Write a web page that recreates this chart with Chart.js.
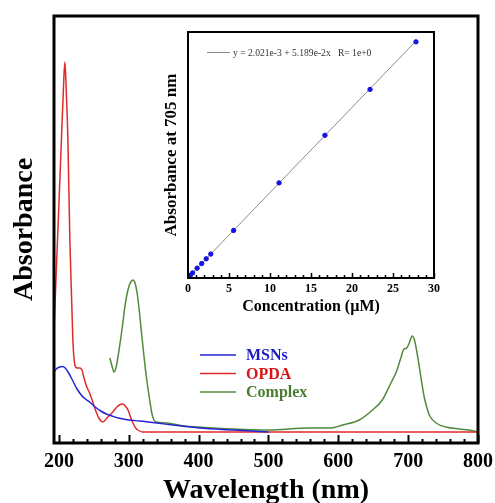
<!DOCTYPE html>
<html><head><meta charset="utf-8">
<script src="https://cdn.jsdelivr.net/npm/chart.js@4.4.0/dist/chart.umd.min.js"></script>
<style>
html,body{margin:0;padding:0;background:#fff;}
#wrap{position:relative;width:495px;height:503px;overflow:hidden;}
#main{position:absolute;left:0;top:0;}
#inset{position:absolute;left:150px;top:20px;}
</style></head><body>
<div id="wrap"><canvas id="main" width="495" height="503"></canvas><canvas id="inset" width="300" height="300"></canvas></div>
<script>
// ---------- main spectra ----------
const seriesNames = ["MSNs", "OPDA", "Complex"];
const wlMSNs  = [193,197,201,205,209,214,220,226,232,238,244,252,260,268,276,285,300,316,340,363,401,450,500];
const absMSNs = [0.71,0.745,0.76,0.765,0.75,0.70,0.62,0.54,0.48,0.44,0.41,0.36,0.32,0.29,0.27,0.25,0.23,0.22,0.20,0.18,0.15,0.13,0.11];
const wlOPDA  = [193,196,200,204,207,208.6,210.5,212.9,215.7,218.6,220,222.9,226,230,233,236,240,244,249,254,258,263,270,276,283,288,291,295,299,303,306,310,313,320,400,500,600,700,800];
const absOPDA = [1.13,1.67,2.38,3.10,3.63,3.81,3.53,3.03,2.03,1.36,1.03,0.78,0.75,0.75,0.73,0.65,0.56,0.50,0.40,0.30,0.24,0.21,0.26,0.30,0.36,0.385,0.39,0.37,0.33,0.25,0.20,0.15,0.13,0.11,0.11,0.11,0.11,0.11,0.11];
const wlComplex  = [273,276,279,282,285,288,291,294,297,300,303,306,309,312,315,318,321,324,327,330,333,336,340,354,380,401,450,500,558,590,606,630,649,663,676,683,690,694,698,701,706,709,712,716,720,723,727,731,740,754,773,787,800];
const absComplex = [0.85,0.77,0.71,0.76,0.88,1.02,1.17,1.34,1.47,1.56,1.61,1.63,1.60,1.50,1.33,1.12,0.92,0.73,0.57,0.43,0.30,0.23,0.21,0.20,0.17,0.16,0.14,0.13,0.15,0.15,0.18,0.23,0.33,0.43,0.61,0.71,0.86,0.94,0.95,0.99,1.07,1.03,0.93,0.76,0.58,0.46,0.35,0.27,0.20,0.16,0.14,0.13,0.11];
const xTickLabels = [200,300,400,500,600,700,800];

// ---------- inset calibration ----------
const concentration = [0,0.28,0.56,1.11,1.67,2.22,2.78,5.56,11.1,16.7,22.2,27.8];
const abs705        = [0.003,0.016,0.031,0.060,0.088,0.117,0.146,0.29,0.58,0.87,1.15,1.44];
const fitX = [0, 27.8];
const fitY = [0.002, 1.445];
const insetTickLabels = [0,5,10,15,20,25,30];
const fitLabel = "y = 2.021e-3 + 5.189e-2x   R= 1e+0";

const colors = {MSNs:"#2323d4", OPDA:"#e02a2a", Complex:"#528a3c"};
const textColors = {MSNs:"#1b1bc0", OPDA:"#d81414", Complex:"#4a7d32"};
const SERIF = "'Liberation Serif','Times New Roman',serif";

function pts(xs, ys){ return xs.map((x,i)=>({x:x, y:ys[i]})); }

const framePlugin = {
  id:'frameTicks',
  afterDatasetsDraw(chart, args, o){
    const {ctx, chartArea:a, scales:{x}} = chart;
    ctx.save();
    ctx.strokeStyle = '#000';
    ctx.lineWidth = o.tickWidth;
    for (let v = o.minorStart; v <= x.max + 1e-9; v += o.minorStep) {
      const px = Math.round(x.getPixelForValue(v)) + 0.5;
      const r = (v - o.majorStart) / o.majorStep;
      const isMajor = Math.abs(r - Math.round(r)) < 1e-6;
      const len = isMajor ? o.majorLen : o.minorLen;
      ctx.beginPath(); ctx.moveTo(px, a.bottom); ctx.lineTo(px, a.bottom - len); ctx.stroke();
    }
    ctx.lineWidth = o.frameWidth;
    ctx.strokeRect(a.left, a.top, a.right - a.left, a.bottom - a.top);
    ctx.restore();
  }
};

const mainLegend = {
  id:'mainLegend',
  afterDraw(chart, args, o){
    const ctx = chart.ctx;
    ctx.save();
    ctx.font = "bold 16px " + SERIF;
    ctx.textBaseline = 'middle';
    chart.data.datasets.forEach((ds, i) => {
      const y = o.y + i * o.gap;
      ctx.strokeStyle = ds.borderColor; ctx.lineWidth = 1.6;
      ctx.beginPath(); ctx.moveTo(o.x, y); ctx.lineTo(o.x + o.len, y); ctx.stroke();
      ctx.fillStyle = textColors[ds.label];
      ctx.fillText(ds.label, o.x + o.len + 10, y + 1);
    });
    ctx.restore();
  }
};

function fixX(h){ return s => { s.height = h; s.paddingLeft = 0; s.paddingRight = 0; }; }

new Chart(document.getElementById('main'), {
  type:'line',
  data:{ datasets:[
    {label:seriesNames[0], data:pts(wlMSNs, absMSNs), borderColor:colors.MSNs},
    {label:seriesNames[1], data:pts(wlOPDA, absOPDA), borderColor:colors.OPDA},
    {label:seriesNames[2], data:pts(wlComplex, absComplex), borderColor:colors.Complex}
  ].map(d => Object.assign(d, {borderWidth:1.5, pointRadius:0, cubicInterpolationMode:'monotone', fill:false}))},
  options:{
    responsive:false, animation:false, devicePixelRatio:1,
    layout:{padding:{top:16, right:17, left:0, bottom:0}},
    plugins:{legend:{display:false}, tooltip:{enabled:false},
      frameTicks:{tickWidth:2, minorStart:200, minorStep:20, majorStart:200, majorStep:100, majorLen:8, minorLen:4, frameWidth:3},
      mainLegend:{x:200, y:355, gap:18.5, len:36}},
    scales:{
      x:{type:'linear', min:193, max:800,
        afterBuildTicks:s => { s.ticks = xTickLabels.map(v => ({value:v})); },
        afterFit:fixX(60),
        grid:{display:false, drawTicks:false}, border:{display:false},
        ticks:{padding:7, color:'#000', maxRotation:0, autoSkip:false, font:{family:SERIF, size:20, weight:'bold'}},
        title:{display:true, text:'Wavelength (nm)', color:'#000', padding:{top:0,bottom:-1.5}, font:{family:SERIF, size:28, weight:'bold', lineHeight:1}}
      },
      y:{type:'linear', min:0, max:4.27,
        afterFit:s => { s.width = 54; },
        grid:{display:false, drawTicks:false}, border:{display:false},
        ticks:{display:false},
        title:{display:true, text:'Absorbance', color:'#000', padding:{top:11,bottom:0}, font:{family:SERIF, size:28, weight:'bold', lineHeight:1}}
      }
    }
  },
  plugins:[framePlugin, mainLegend]
});

const insetLegend = {
  id:'insetLegend',
  afterDraw(chart, args, o){
    const ctx = chart.ctx;
    ctx.save();
    ctx.strokeStyle = '#888'; ctx.lineWidth = 1;
    ctx.beginPath(); ctx.moveTo(o.x, o.y + 0.5); ctx.lineTo(o.x + o.len, o.y + 0.5); ctx.stroke();
    ctx.fillStyle = '#333';
    ctx.font = "9.6px " + SERIF;
    ctx.textBaseline = 'middle';
    ctx.fillText(fitLabel, o.x + o.len + 3, o.y + 1);
    ctx.restore();
  }
};

new Chart(document.getElementById('inset'), {
  type:'scatter',
  data:{ datasets:[
    {label:'data', data:pts(concentration, abs705), backgroundColor:'#1414e0', borderColor:'#1414e0', pointRadius:2.2, showLine:false},
    {label:'fit', data:pts(fitX, fitY), borderColor:'#8c8c8c', borderWidth:1, pointRadius:0, showLine:true}
  ]},
  options:{
    responsive:false, animation:false, devicePixelRatio:1,
    layout:{padding:{top:12, right:16, left:0, bottom:0}},
    plugins:{legend:{display:false}, tooltip:{enabled:false},
      frameTicks:{tickWidth:1.5, minorStart:0, minorStep:1, majorStart:0, majorStep:5, majorLen:5, minorLen:3, frameWidth:2},
      insetLegend:{x:57, y:32, len:23}},
    scales:{
      x:{type:'linear', min:0, max:30,
        afterBuildTicks:s => { s.ticks = insetTickLabels.map(v => ({value:v})); },
        afterFit:fixX(42),
        grid:{display:false, drawTicks:false}, border:{display:false},
        ticks:{padding:4, color:'#000', maxRotation:0, autoSkip:false, font:{family:SERIF, size:12, weight:'bold'}},
        title:{display:true, text:'Concentration (µM)', color:'#000', padding:{top:0,bottom:5}, font:{family:SERIF, size:16, weight:'bold', lineHeight:1}}
      },
      y:{type:'linear', min:0, max:1.5,
        afterFit:s => { s.width = 38; },
        grid:{display:false, drawTicks:false}, border:{display:false},
        ticks:{display:false},
        title:{display:true, text:'Absorbance at 705 nm', color:'#000', padding:{top:13.5,bottom:0}, font:{family:SERIF, size:17, weight:'bold', lineHeight:1}}
      }
    }
  },
  plugins:[framePlugin, insetLegend]
});
</script>
</body></html>
